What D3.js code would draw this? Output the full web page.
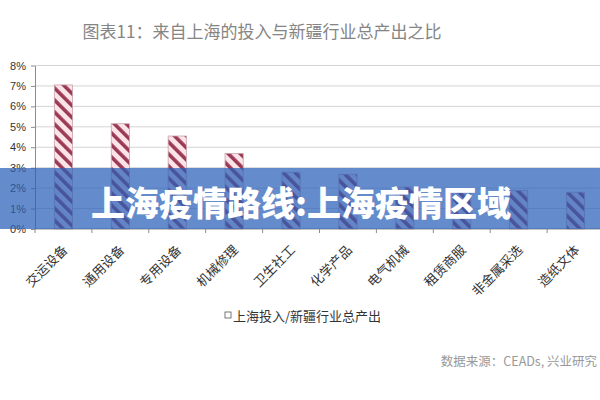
<!DOCTYPE html>
<html><head><meta charset="utf-8">
<script src="https://cdn.jsdelivr.net/npm/d3@7"></script>
<style>body{margin:0;background:#fff}svg{display:block}</style>
</head><body><svg id="c" width="600" height="400"></svg>
<script>
const categories = ["交运设备","通用设备","专用设备","机械修理","卫生社工","化学产品","电气机械","租赁商服","非金属采选","造纸文体"];
const values = [0.0705, 0.0515, 0.0455, 0.037, 0.0278, 0.0268, 0.0205, 0.0195, 0.0188, 0.018];
const yTicks = [0,0.01,0.02,0.03,0.04,0.05,0.06,0.07,0.08];
const titleText = "图表11：来自上海的投入与新疆行业总产出之比";
const legendText = "上海投入/新疆行业总产出";
const sourceText = "数据来源：CEADs, 兴业研究";
const bannerText = "上海疫情路线:上海疫情区域";

const svg = d3.select("#c");
const defs = svg.append("defs");
const pat = defs.append("pattern").attr("id","hatch").attr("patternUnits","userSpaceOnUse")
  .attr("width",8.5).attr("height",8.5).attr("patternTransform","rotate(-45)");
pat.append("rect").attr("width",8.5).attr("height",8.5).attr("fill","#fbe3e8");
pat.append("rect").attr("x",0).attr("width",3.6).attr("height",8.5).attr("fill","#9b3a55");

const x = d3.scaleBand().domain(categories).range([35,604]).paddingInner(0.68).paddingOuter(0.34);
const y = d3.scaleLinear().domain([0,0.08]).range([229,65.5]);

// title
svg.append("text").attr("x",262).attr("y",30).attr("text-anchor","middle").attr("dominant-baseline","central")
  .attr("font-family","'Noto Sans CJK SC',sans-serif").attr("font-size",17).attr("fill","#858585").text(titleText);

// gridlines
svg.append("g").selectAll("line").data(yTicks.slice(1)).join("line")
  .attr("x1",35).attr("x2",600).attr("y1",d=>y(d)).attr("y2",d=>y(d))
  .attr("stroke","#d4d4d4").attr("stroke-width",1);

// y axis
const yAxis = svg.append("g").attr("transform","translate(35,0)")
  .call(d3.axisLeft(y).tickValues(yTicks).tickFormat(d=>Math.round(d*100)+"%").tickSize(4).tickSizeOuter(0));
yAxis.select(".domain").attr("stroke","#8c8c8c");
yAxis.selectAll(".tick line").attr("stroke","#8c8c8c");
yAxis.selectAll("text").attr("font-family","Arial,'Liberation Sans',sans-serif").attr("font-size",11).attr("fill","#333").attr("dx",-2);

// bars
svg.append("g").selectAll("rect").data(values).join("rect")
  .attr("x",(d,i)=>x(categories[i])).attr("width",x.bandwidth())
  .attr("y",d=>y(d)).attr("height",d=>y(0)-y(d))
  .attr("fill","url(#hatch)").attr("stroke","#c9a3ad").attr("stroke-width",0.8);

// x axis
const xAxis = svg.append("g").attr("transform","translate(0,229)");
xAxis.append("line").attr("x1",35).attr("x2",600).attr("stroke","#8c8c8c");
const step = x.step();
xAxis.selectAll("line.t").data(categories).join("line").attr("class","t")
  .attr("x1",(d,i)=>x(d)-x.paddingOuter()*step).attr("x2",(d,i)=>x(d)-x.paddingOuter()*step)
  .attr("y1",0).attr("y2",4).attr("stroke","#8c8c8c");
xAxis.selectAll("text").data(categories).join("text")
  .attr("transform",d=>`translate(${x(d)+x.bandwidth()/2+1},${18}) rotate(-45)`)
  .attr("text-anchor","end").attr("dominant-baseline","central")
  .attr("font-family","'Noto Sans CJK SC',serif").attr("font-size",13).attr("fill","#333").text(d=>d);

// legend
svg.append("rect").attr("x",225).attr("y",312).attr("width",6).attr("height",6).attr("fill","#fff").attr("stroke","#555").attr("stroke-width",0.8);
svg.append("text").attr("x",233).attr("y",315).attr("dominant-baseline","central")
  .attr("font-family","'Noto Sans CJK SC',serif").attr("font-size",13).attr("fill","#333").text(legendText);

// source
svg.append("text").attr("x",597).attr("y",360).attr("text-anchor","end").attr("dominant-baseline","central")
  .attr("font-family","'Noto Sans CJK SC',sans-serif").attr("font-size",12.5).attr("fill","#999").text(sourceText);

// banner overlay
svg.append("rect").attr("x",0).attr("y",168).attr("width",600).attr("height",61)
  .attr("fill","rgb(40,95,185)").attr("fill-opacity",0.72);
svg.append("text").attr("x",301).attr("y",201).attr("text-anchor","middle").attr("dominant-baseline","central")
  .attr("font-family","'Noto Sans CJK SC',sans-serif").attr("font-weight",900).attr("font-size",34)
  .attr("fill","#fff").text(bannerText);
</script></body></html>
